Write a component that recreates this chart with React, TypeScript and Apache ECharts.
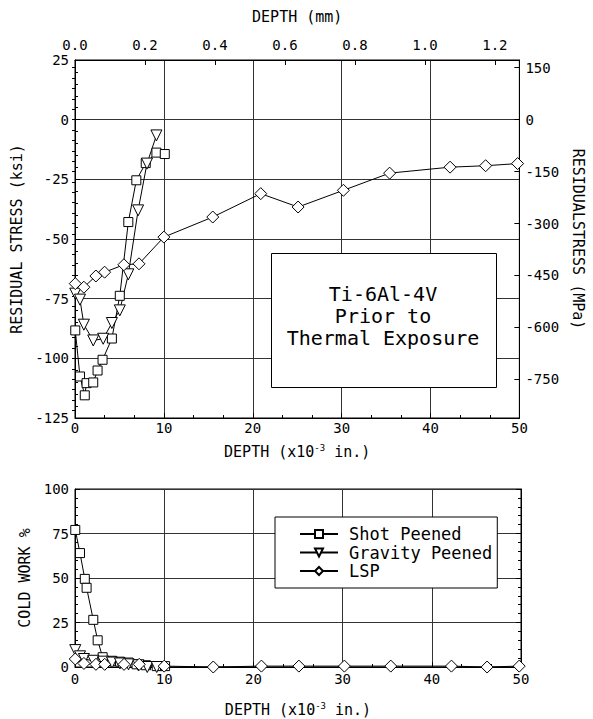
import React, { useEffect, useRef } from "react";
import * as echarts from "echarts";

const FONT = "DejaVu Sans Mono";

// Depth in 10^-3 in.
const shotDepth = [0.03, 0.56, 1.1, 1.3, 2.05, 2.54, 3.1, 4.15, 5.04, 6.0, 6.9, 7.96, 9.16, 10.1];
const shotStress = [-88.3, -107.6, -115.5, -110.4, -110.1, -105.1, -100.6, -91.7, -73.8, -42.9, -25.4, -18.2, -13.8, -14.4];
const shotColdWork = [77, 64, 49.5, 44.5, 26.5, 15, 5.5, 3.5, 3, 2.5, 1.5, 1, 0.5, 0.5];

const gravDepth = [0.03, 0.56, 1.0, 2.05, 3.17, 4.15, 5.04, 6.0, 7.1, 8.1, 9.16];
const gravStress = [-72.9, -75.4, -85.9, -92.5, -91.8, -85.2, -79.9, -64.8, -38.0, -18.4, -6.6];
const gravColdWork = [9.5, 6, 4.5, 3.5, 3, 2.5, 2, 1.5, 1, 0, 0];

const lspDepth = [0.03, 1.0, 2.35, 3.33, 5.5, 7.2, 10.0, 15.5, 20.9, 25.1, 30.2, 35.4, 42.2, 46.2, 49.8];
const lspStress = [-68.7, -70.2, -65.5, -63.9, -60.8, -60.4, -49.2, -40.8, -31.0, -36.6, -29.6, -22.4, -19.9, -19.3, -18.4];
const lspColdWork = [4.5, 2, 1.5, 1.5, 1.5, 1.5, 0.5, 0, 0.5, 0.5, 0.5, 0.5, 0.5, 0, 0.5];

const seriesNames = ["Shot Peened", "Gravity Peened", "LSP"];
const mpaTicks = [150, 0, -150, -300, -450, -600, -750];
const mpaMinorTicks = [150, 120, 90, 60, 30, 0, -30, -60, -90, -120, -150, -180, -210, -240, -270, -300, -330, -360, -390, -420, -450, -480, -510, -540, -570, -600, -630, -660, -690, -720, -750, -780, -810, -840];
const mmTicks = [0, 0.2, 0.4, 0.6, 0.8, 1.0, 1.2];
const boxText = ["Ti-6Al-4V", "Prior to", "Thermal Exposure"];

const KSI_TO_MPA = 6.894757;
const MILS_TO_MM = 0.0254;

const pairs = (xs: number[], ys: number[]) => xs.map((x, i) => [x, ys[i]]);

const txt = { fontFamily: FONT, color: "#000" };
const black = { color: "#000", width: 1 };
const NAME_SIZE = 15;
const TICK_SIZE = 14;

const depthName = "DEPTH (x10{sup|-3} in.)";
const depthNameStyle = {
  ...txt,
  fontSize: NAME_SIZE,
  rich: {
    sup: { fontFamily: FONT, color: "#000", fontSize: 9, padding: [0, 0, 9, 0] },
  },
};

function depthAxis(gridIndex: number, labelMargin: number, nameGap: number) {
  return {
    type: "value",
    gridIndex,
    position: "bottom",
    min: 0,
    max: 50,
    interval: 10,
    axisLine: { show: true, onZero: false, lineStyle: black },
    axisTick: { show: true, inside: true, length: 5, lineStyle: black },
    minorTick: { show: true, splitNumber: 3, length: 3, lineStyle: black },
    splitLine: { show: true, lineStyle: { color: "#333", width: 1 } },
    axisLabel: { ...txt, fontSize: TICK_SIZE, margin: labelMargin },
    name: depthName,
    nameLocation: "middle",
    nameGap,
    nameTextStyle: depthNameStyle,
  };
}

const lineSeries = (
  name: string,
  symbol: string,
  size: number,
  rotate: number,
  data: number[][],
  xAxisIndex: number,
  yAxisIndex: number
) => ({
  name,
  type: "line",
  xAxisIndex,
  yAxisIndex,
  data,
  symbol,
  symbolSize: size,
  symbolRotate: rotate,
  showAllSymbol: true,
  lineStyle: { color: "#000", width: 1 },
  itemStyle: { color: "#fff", borderColor: "#000", borderWidth: 1 },
  emphasis: { disabled: true },
  silent: true,
  clip: false,
});

export default function App() {
  const ref = useRef<HTMLDivElement>(null);
  useEffect(() => {
    const chart = echarts.init(ref.current!, null, { renderer: "svg" });
    const option: any = {
      animation: false,
      backgroundColor: "#fff",
      textStyle: { fontFamily: FONT },
      grid: [
        { left: 75, top: 60, width: 446, height: 358, show: true, borderColor: "#000", borderWidth: 1, backgroundColor: "transparent" },
        { left: 75, top: 489, width: 446, height: 178, show: true, borderColor: "#000", borderWidth: 1, backgroundColor: "transparent" },
      ],
      xAxis: [
        depthAxis(0, 3, 25),
        {
          type: "value",
          gridIndex: 0,
          position: "top",
          min: 0,
          max: 50 * MILS_TO_MM,
          axisLine: { show: true, onZero: false, lineStyle: black },
          axisTick: { show: true, inside: true, length: 5, lineStyle: black, customValues: mmTicks },
          splitLine: { show: false },
          axisLabel: { ...txt, fontSize: TICK_SIZE, margin: 8, customValues: mmTicks, formatter: (v: number) => v.toFixed(1) },
          name: "DEPTH (mm)",
          nameLocation: "middle",
          nameGap: 36,
          nameTextStyle: { ...txt, fontSize: NAME_SIZE },
        },
        depthAxis(1, 5, 34),
      ],
      yAxis: [
        {
          type: "value",
          gridIndex: 0,
          position: "left",
          min: -125,
          max: 25,
          interval: 25,
          axisLine: { show: true, onZero: false, lineStyle: black },
          axisTick: { show: true, inside: true, length: 5, lineStyle: black },
          minorTick: { show: true, splitNumber: 5, length: 3, lineStyle: black },
          splitLine: { show: true, lineStyle: { color: "#333", width: 1 } },
          axisLabel: { ...txt, fontSize: TICK_SIZE, margin: 6 },
          name: "RESIDUAL STRESS (ksi)",
          nameLocation: "middle",
          nameGap: 44,
          nameRotate: 90,
          nameTextStyle: { ...txt, fontSize: NAME_SIZE },
        },
        {
          type: "value",
          gridIndex: 0,
          position: "right",
          min: -125 * KSI_TO_MPA,
          max: 25 * KSI_TO_MPA,
          axisLine: { show: true, onZero: false, lineStyle: black },
          axisTick: { show: true, inside: true, length: 5, lineStyle: black, customValues: mpaTicks },
          splitLine: { show: false },
          axisLabel: { ...txt, fontSize: TICK_SIZE, margin: 6, customValues: mpaTicks },
          name: "RESIDUALSTRESS (MPa)",
          nameLocation: "middle",
          nameGap: 50,
          nameRotate: -90,
          nameTextStyle: { ...txt, fontSize: NAME_SIZE },
        },
        {
          type: "value",
          gridIndex: 0,
          position: "right",
          min: -125 * KSI_TO_MPA,
          max: 25 * KSI_TO_MPA,
          axisLine: { show: false },
          axisTick: { show: true, inside: true, length: 3, lineStyle: black, customValues: mpaMinorTicks },
          splitLine: { show: false },
          axisLabel: { show: false },
        },
        {
          type: "value",
          gridIndex: 1,
          position: "left",
          min: 0,
          max: 100,
          interval: 25,
          axisLine: { show: true, onZero: false, lineStyle: black },
          axisTick: { show: true, inside: true, length: 5, lineStyle: black },
          minorTick: { show: true, splitNumber: 5, length: 3, lineStyle: black },
          splitLine: { show: true, lineStyle: { color: "#333", width: 1 } },
          axisLabel: { ...txt, fontSize: TICK_SIZE, margin: 6 },
          name: "COLD WORK %",
          nameLocation: "middle",
          nameGap: 37,
          nameRotate: 90,
          nameTextStyle: { ...txt, fontSize: NAME_SIZE },
        },
        {
          type: "value",
          gridIndex: 1,
          position: "right",
          min: 0,
          max: 100,
          interval: 25,
          axisLine: { show: true, onZero: false, lineStyle: black },
          axisTick: { show: true, inside: true, length: 5, lineStyle: black },
          minorTick: { show: true, splitNumber: 5, length: 3, lineStyle: black },
          splitLine: { show: false },
          axisLabel: { show: false },
        },
      ],
      legend: {
        data: seriesNames,
        orient: "vertical",
        left: 275,
        top: 517,
        padding: [8, 5, 8, 24],
        itemWidth: 38,
        itemHeight: 10,
        itemGap: 0.5,
        backgroundColor: "#fff",
        borderColor: "#000",
        borderWidth: 1,
        selectedMode: false,
        z: 10,
        textStyle: { ...txt, fontSize: 17, lineHeight: 18, padding: [0, 0, 0, 6] },
      },
      graphic: [
        {
          type: "rect",
          left: 271,
          top: 253,
          z: 100,
          shape: { x: 0, y: 0, width: 225, height: 134 },
          style: { fill: "#fff", stroke: "#000", lineWidth: 1 },
        },
        {
          type: "text",
          x: 383,
          y: 316,
          z: 101,
          style: {
            text: boxText.join("\n"),
            fontFamily: FONT,
            fontSize: 20,
            lineHeight: 22,
            fill: "#000",
            align: "center",
            verticalAlign: "middle",
          },
        },
      ],
      series: [
        lineSeries(seriesNames[0], "rect", 9, 0, pairs(shotDepth, shotStress), 0, 0),
        lineSeries(seriesNames[1], "triangle", 11, 180, pairs(gravDepth, gravStress), 0, 0),
        lineSeries(seriesNames[2], "diamond", 12, 0, pairs(lspDepth, lspStress), 0, 0),
        lineSeries(seriesNames[0], "rect", 9, 0, pairs(shotDepth, shotColdWork), 2, 3),
        lineSeries(seriesNames[1], "triangle", 11, 180, pairs(gravDepth, gravColdWork), 2, 3),
        lineSeries(seriesNames[2], "diamond", 12, 0, pairs(lspDepth, lspColdWork), 2, 3),
      ],
    };
    chart.setOption(option);
    return () => chart.dispose();
  }, []);
  return (
    <div
      ref={ref}
      style={{ position: "absolute", left: 0, top: 0, width: 593, height: 719, background: "#fff" }}
    />
  );
}
